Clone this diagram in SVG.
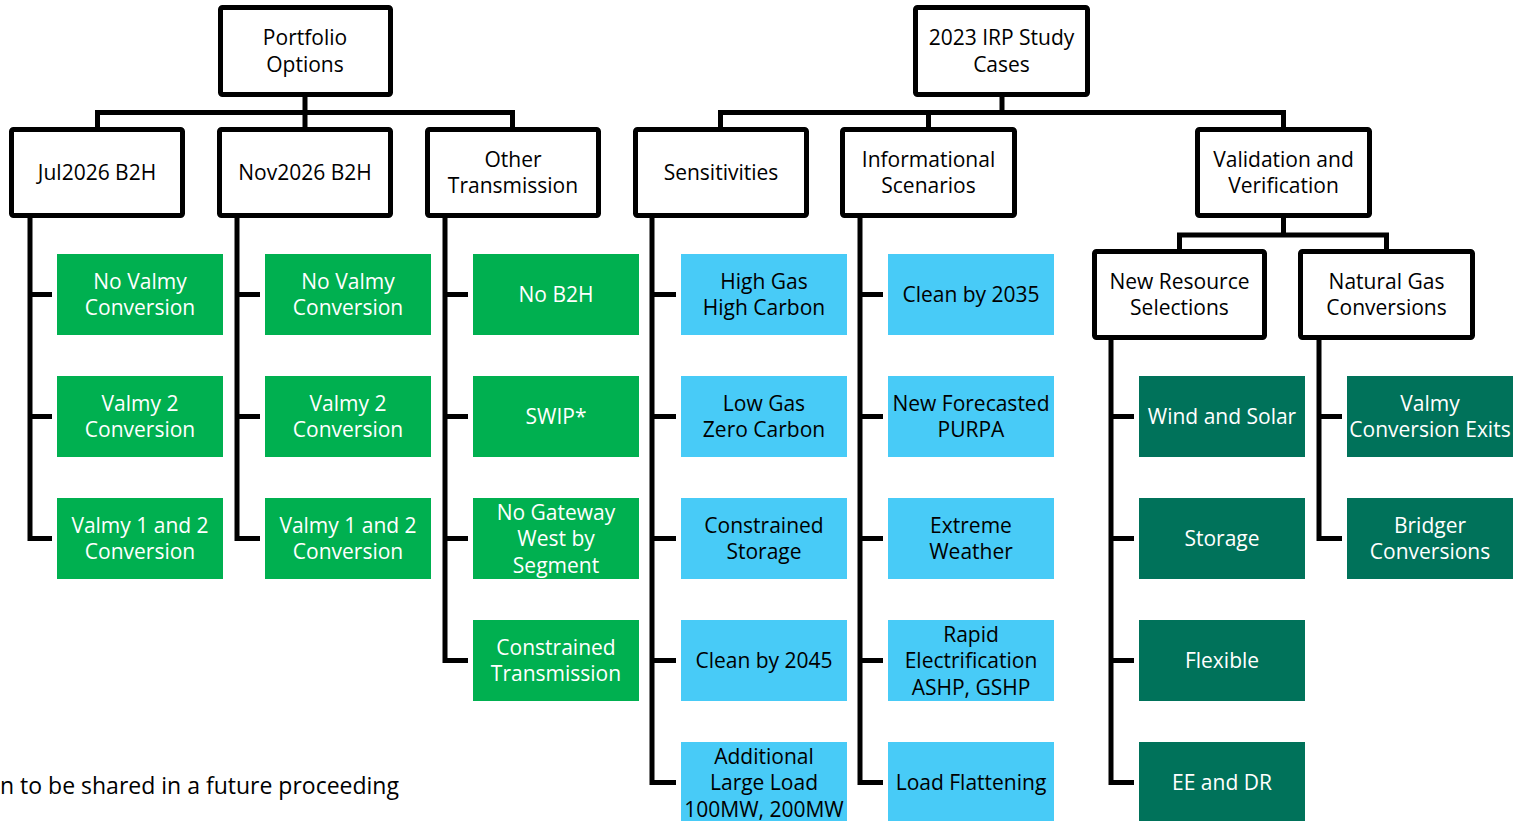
<svg xmlns="http://www.w3.org/2000/svg" width="1518" height="821" viewBox="0 0 1518 821">
<style>
text{font-family:"Open Sans","Noto Sans",sans-serif;font-size:21px;text-anchor:middle}
.hd{fill:#fff;stroke:#000;stroke-width:5}
.g{fill:#00B050}
.b{fill:#48CBF7}
.d{fill:#00725A}
.w{fill:#fff}
.k{fill:#000}
.ln{fill:none;stroke:#000;stroke-width:5}
</style>
<rect width="1518" height="821" fill="#fff"/>
<g id="connectors" class="ln">
<path d="M305 97V112.5M97.5 129V112.5H512.5V129M305 112.5V129"/>
<path d="M1002 97V112.5M720.5 129V112.5H1283.5V129M928.5 112.5V129"/>
<path d="M1283.5 218V235M1179.5 251V235H1386.5V251"/>
<path d="M30 216V538.5H52M30 294.5H52M30 416.5H52"/>
<path d="M237 216V538.5H260M237 294.5H260M237 416.5H260"/>
<path d="M445 216V660.5H468M445 294.5H468M445 416.5H468M445 538.5H468"/>
<path d="M652 216V782.5H676M652 294.5H676M652 416.5H676M652 538.5H676M652 660.5H676"/>
<path d="M860 216V782.5H883M860 294.5H883M860 416.5H883M860 538.5H883M860 660.5H883"/>
<path d="M1111 338V782.5H1134M1111 416.5H1134M1111 538.5H1134M1111 660.5H1134"/>
<path d="M1319 338V538.5H1342M1319 416.5H1342"/>
</g>
<g id="portfolio-options"><rect class="hd" x="220.5" y="7.5" width="170" height="87" rx="2"/><text class="k" x="305" y="45">Portfolio</text><text class="k" x="305" y="71.5">Options</text></g>
<g id="irp-study-cases"><rect class="hd" x="915.5" y="7.5" width="172" height="87" rx="2"/><text class="k" x="1001.5" y="45">2023 IRP Study</text><text class="k" x="1001.5" y="71.5">Cases</text></g>
<g id="jul2026"><rect class="hd" x="11.5" y="129.5" width="171" height="86" rx="2"/><text class="k" x="97" y="180">Jul2026 B2H</text></g>
<g id="nov2026"><rect class="hd" x="219.5" y="129.5" width="171" height="86" rx="2"/><text class="k" x="305" y="180">Nov2026 B2H</text></g>
<g id="other-transmission"><rect class="hd" x="427.5" y="129.5" width="171" height="86" rx="2"/><text class="k" x="513" y="166.5">Other</text><text class="k" x="513" y="193">Transmission</text></g>
<g id="sensitivities"><rect class="hd" x="635.5" y="129.5" width="171" height="86" rx="2"/><text class="k" x="721" y="180">Sensitivities</text></g>
<g id="informational-scenarios"><rect class="hd" x="842.5" y="129.5" width="172" height="86" rx="2"/><text class="k" x="928.5" y="166.5">Informational</text><text class="k" x="928.5" y="193">Scenarios</text></g>
<g id="validation"><rect class="hd" x="1197.5" y="129.5" width="172" height="86" rx="2"/><text class="k" x="1283.5" y="166.5">Validation and</text><text class="k" x="1283.5" y="193">Verification</text></g>
<g id="new-resource"><rect class="hd" x="1094.5" y="251.5" width="170" height="86" rx="2"/><text class="k" x="1179.5" y="288.5">New Resource</text><text class="k" x="1179.5" y="315">Selections</text></g>
<g id="natural-gas"><rect class="hd" x="1300.5" y="251.5" width="172" height="86" rx="2"/><text class="k" x="1386.5" y="288.5">Natural Gas</text><text class="k" x="1386.5" y="315">Conversions</text></g>

<g id="c1r1"><rect class="g" x="57" y="254" width="166" height="81"/><text class="w" x="140" y="288.75">No Valmy</text><text class="w" x="140" y="315.25">Conversion</text></g>
<g id="c1r2"><rect class="g" x="57" y="376" width="166" height="81"/><text class="w" x="140" y="410.75">Valmy 2</text><text class="w" x="140" y="437.25">Conversion</text></g>
<g id="c1r3"><rect class="g" x="57" y="498" width="166" height="81"/><text class="w" x="140" y="532.75">Valmy 1 and 2</text><text class="w" x="140" y="559.25">Conversion</text></g>

<g id="c2r1"><rect class="g" x="265" y="254" width="166" height="81"/><text class="w" x="348" y="288.75">No Valmy</text><text class="w" x="348" y="315.25">Conversion</text></g>
<g id="c2r2"><rect class="g" x="265" y="376" width="166" height="81"/><text class="w" x="348" y="410.75">Valmy 2</text><text class="w" x="348" y="437.25">Conversion</text></g>
<g id="c2r3"><rect class="g" x="265" y="498" width="166" height="81"/><text class="w" x="348" y="532.75">Valmy 1 and 2</text><text class="w" x="348" y="559.25">Conversion</text></g>

<g id="c3r1"><rect class="g" x="473" y="254" width="166" height="81"/><text class="w" x="556" y="302">No B2H</text></g>
<g id="c3r2"><rect class="g" x="473" y="376" width="166" height="81"/><text class="w" x="556" y="424">SWIP*</text></g>
<g id="c3r3"><rect class="g" x="473" y="498" width="166" height="81"/><text class="w" x="556" y="519.5">No Gateway</text><text class="w" x="556" y="546">West by</text><text class="w" x="556" y="572.5">Segment</text></g>
<g id="c3r4"><rect class="g" x="473" y="620" width="166" height="81"/><text class="w" x="556" y="654.75">Constrained</text><text class="w" x="556" y="681.25">Transmission</text></g>

<g id="c4r1"><rect class="b" x="681" y="254" width="166" height="81"/><text class="k" x="764" y="288.75">High Gas</text><text class="k" x="764" y="315.25">High Carbon</text></g>
<g id="c4r2"><rect class="b" x="681" y="376" width="166" height="81"/><text class="k" x="764" y="410.75">Low Gas</text><text class="k" x="764" y="437.25">Zero Carbon</text></g>
<g id="c4r3"><rect class="b" x="681" y="498" width="166" height="81"/><text class="k" x="764" y="532.75">Constrained</text><text class="k" x="764" y="559.25">Storage</text></g>
<g id="c4r4"><rect class="b" x="681" y="620" width="166" height="81"/><text class="k" x="764" y="668">Clean by 2045</text></g>
<g id="c4r5"><rect class="b" x="681" y="742" width="166" height="81"/><text class="k" x="764" y="763.5">Additional</text><text class="k" x="764" y="790">Large Load</text><text class="k" x="764" y="816.5">100MW, 200MW</text></g>

<g id="c5r1"><rect class="b" x="888" y="254" width="166" height="81"/><text class="k" x="971" y="302">Clean by 2035</text></g>
<g id="c5r2"><rect class="b" x="888" y="376" width="166" height="81"/><text class="k" x="971" y="410.75">New Forecasted</text><text class="k" x="971" y="437.25">PURPA</text></g>
<g id="c5r3"><rect class="b" x="888" y="498" width="166" height="81"/><text class="k" x="971" y="532.75">Extreme</text><text class="k" x="971" y="559.25">Weather</text></g>
<g id="c5r4"><rect class="b" x="888" y="620" width="166" height="81"/><text class="k" x="971" y="641.5">Rapid</text><text class="k" x="971" y="668">Electrification</text><text class="k" x="971" y="694.5">ASHP, GSHP</text></g>
<g id="c5r5"><rect class="b" x="888" y="742" width="166" height="81"/><text class="k" x="971" y="790">Load Flattening</text></g>

<g id="c6r2"><rect class="d" x="1139" y="376" width="166" height="81"/><text class="w" x="1222" y="424">Wind and Solar</text></g>
<g id="c6r3"><rect class="d" x="1139" y="498" width="166" height="81"/><text class="w" x="1222" y="546">Storage</text></g>
<g id="c6r4"><rect class="d" x="1139" y="620" width="166" height="81"/><text class="w" x="1222" y="668">Flexible</text></g>
<g id="c6r5"><rect class="d" x="1139" y="742" width="166" height="81"/><text class="w" x="1222" y="790">EE and DR</text></g>

<g id="c7r2"><rect class="d" x="1347" y="376" width="166" height="81"/><text class="w" x="1430" y="410.75">Valmy</text><text class="w" x="1430" y="437.25">Conversion Exits</text></g>
<g id="c7r3"><rect class="d" x="1347" y="498" width="166" height="81"/><text class="w" x="1430" y="532.75">Bridger</text><text class="w" x="1430" y="559.25">Conversions</text></g>

<text class="k" x="0" y="794" style="text-anchor:start;font-size:23px">n to be shared in a future proceeding</text>
</svg>
